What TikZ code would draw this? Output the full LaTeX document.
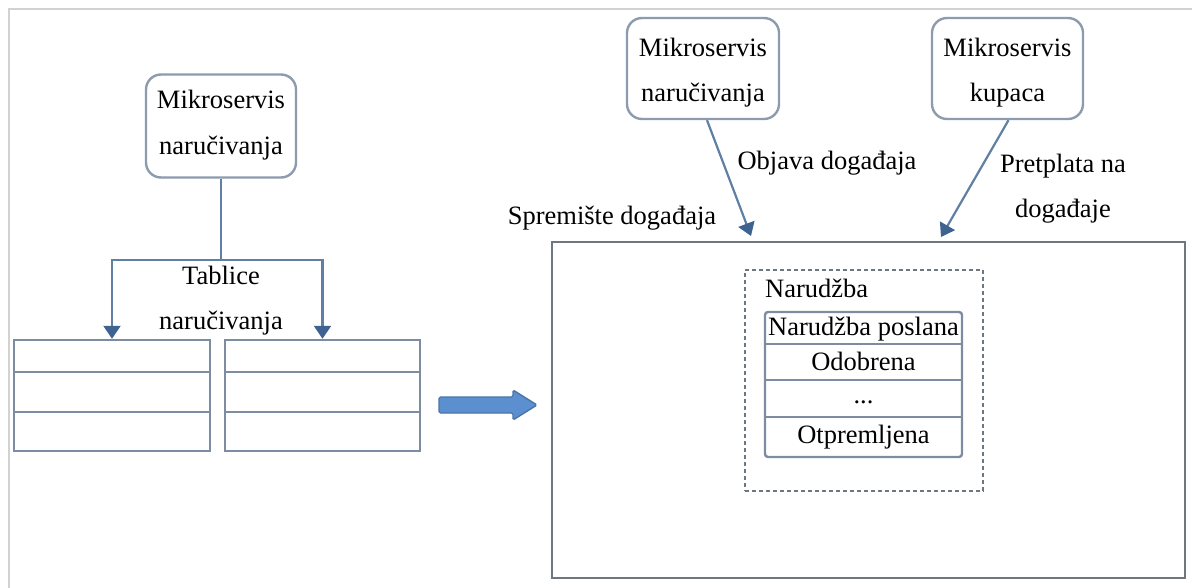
\documentclass[tikz,border=0pt]{standalone}
\usepackage{fontspec}
\setmainfont{Liberation Serif}
\usetikzlibrary{arrows.meta,calc}
\definecolor{boxline}{HTML}{8C9BAE}
\definecolor{tabline}{HTML}{7D8CA0}
\definecolor{conn}{HTML}{5F7FA3}
\definecolor{tip}{HTML}{3F6390}
\definecolor{frame}{HTML}{D2D2D2}
\definecolor{storeline}{HTML}{6E7780}
\definecolor{bigfill}{HTML}{5B8FCF}
\definecolor{bigdraw}{HTML}{4A74A8}
\tikzset{
  svc/.style={draw=boxline, line width=2.4pt, rounded corners=15pt, inner sep=0pt},
  tbl/.style={draw=tabline, line width=2.4pt, inner sep=0pt},
  conn/.style={draw=conn, line width=2.2pt, -{Triangle[width=17pt,length=13pt,fill=tip,color=tip]}},
  plain/.style={draw=conn, line width=2.2pt},
  txt/.style={font=\fontsize{26.5}{30}\selectfont, inner sep=0pt, anchor=base},
}
\begin{document}
\begin{tikzpicture}[x=1pt,y=-1pt]
\useasboundingbox (0,0) rectangle (1192,588);
% outer frame
\draw[frame, line width=2pt] (9,588) -- (9,9) -- (1192,9);

% left part
\node[svc, minimum width=150pt, minimum height=103pt] (lm) at (221,126) {};
\node[txt] (lm1) at (221,109) {Mikroservis};
\node[txt] (lm2) at (221,155) {naručivanja};

\node[tbl, minimum width=196pt, minimum height=111pt] (t1) at (112,395.5) {};
\node[tbl, minimum width=195pt, minimum height=111pt] (t2) at (322.5,395.5) {};
\foreach \t in {t1,t2}{
  \draw[tabline, line width=2.4pt] ($(\t.north west)+(0,33)$) -- ($(\t.north east)+(0,33)$);
  \draw[tabline, line width=2.4pt] ($(\t.north west)+(0,73)$) -- ($(\t.north east)+(0,73)$);
}
\coordinate (j) at (221,260);
\draw[plain] (lm.south) -- (j);
\draw[conn] (j) -| (t1.north);
\draw[conn] (j) -| (t2.north);
\node[txt] (tl1) at (221,284) {Tablice};
\node[txt] (tl2) at (221,330) {naručivanja};

% big arrow
\filldraw[fill=bigfill, draw=bigdraw, line width=1.4pt, rounded corners=1.5pt]
  (439,397) -- (513,397) -- (513,390) -- (537,405) -- (513,420) -- (513,413) -- (439,413) -- cycle;

% right part
\node[draw=storeline, line width=2.4pt, minimum width=633pt, minimum height=336pt, inner sep=0pt] (store) at (868.5,410) {};
\node[draw=storeline, line width=1.8pt, dash pattern=on 4pt off 3pt, minimum width=238pt, minimum height=221pt, inner sep=0pt] (agg) at (864,380.5) {};
\node[tbl, rounded corners=3pt, minimum width=197pt, minimum height=145pt] (ev) at (863.5,384.5) {};
\foreach \d in {33,69,106}{
  \draw[tabline, line width=2.4pt] ($(ev.north west)+(0,\d)$) -- ($(ev.north east)+(0,\d)$);
}
\node[txt, anchor=base west] (agl) at (765,298) {Narudžba};
\node[txt] (e1) at (863.5,335) {Narudžba poslana};
\node[txt] (e2) at (863.5,370) {Odobrena};
\node[txt] (e3) at (863.5,403) {...};
\node[txt] (e4) at (863.5,443) {Otpremljena};

\node[svc, minimum width=152pt, minimum height=101pt] (om) at (703,68.5) {};
\node[txt] (om1) at (703,57) {Mikroservis};
\node[txt] (om2) at (703,102) {naručivanja};
\node[svc, minimum width=151pt, minimum height=101pt] (km) at (1007.5,68.5) {};
\node[txt] (km1) at (1007.5,57) {Mikroservis};
\node[txt] (km2) at (1007.5,102) {kupaca};

\coordinate (a1) at (751,236);
\coordinate (a2) at (941,237);
\draw[conn] ($(om.south)+(4,0)$) -- (a1);
\draw[conn] ($(km.south)+(1,0)$) -- (a2);

\node[txt] (lb1) at (827,170) {Objava događaja};
\node[txt] (lb2) at (1063,173) {Pretplata na};
\node[txt] (lb3) at (1063,218) {događaje};
\node[txt] (lb4) at (612,225) {Spremište događaja};
\end{tikzpicture}
\end{document}
